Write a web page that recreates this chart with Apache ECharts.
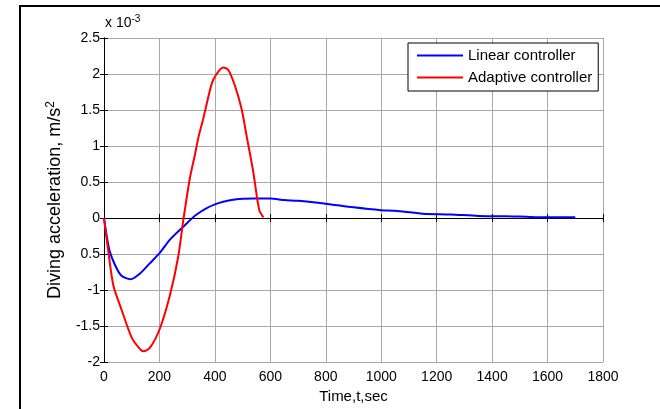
<!DOCTYPE html>
<html>
<head>
<meta charset="utf-8">
<script src="https://cdn.jsdelivr.net/npm/echarts@6/dist/echarts.min.js"></script>
<style>
  html, body { margin: 0; padding: 0; background: #fff; }
  #chart { width: 660px; height: 409px; }
</style>
</head>
<body>
<div id="chart"></div>
<script>
// Diving acceleration (units of 1e-3 m/s^2) versus time in seconds
const linearTime = [0, 22, 60, 96, 130, 165, 202, 238, 286, 334, 400, 478, 540, 600, 650, 700, 800, 900, 1000, 1050, 1150, 1250, 1350, 1500, 1600, 1700];
const linearAccel = [0, -0.48, -0.79, -0.85, -0.77, -0.63, -0.48, -0.30, -0.12, 0.05, 0.19, 0.26, 0.27, 0.27, 0.25, 0.24, 0.20, 0.15, 0.11, 0.10, 0.06, 0.05, 0.03, 0.02, 0.01, 0.01];

const adaptiveTime = [0, 15, 34, 64, 100, 130, 142, 166, 202, 238, 268, 286, 310, 328, 340, 358, 388, 406, 430, 448, 472, 496, 514, 538, 560, 575];
const adaptiveAccel = [0, -0.45, -0.94, -1.28, -1.66, -1.82, -1.85, -1.80, -1.53, -1.07, -0.53, -0.03, 0.56, 0.88, 1.11, 1.38, 1.86, 2.0, 2.09, 2.06, 1.84, 1.52, 1.15, 0.65, 0.11, 0.01];

const seriesNames = ['Linear controller', 'Adaptive controller'];
const seriesColors = ['#0000ff', '#ff0000'];

const xTickValues = [0, 200, 400, 600, 800, 1000, 1200, 1400, 1600, 1800];
const yTickValues = [-2, -1.5, -1, -0.5, 0, 0.5, 1, 1.5, 2, 2.5];
const yTickLabels = ['-2', '-1.5', '-1', '0.5', '0', '0.5', '1', '1.5', '2', '2.5'];

const FONT = '"Liberation Sans", Arial, sans-serif';

function pairs(xs, ys) { return xs.map((x, i) => [x, ys[i]]); }

const chart = echarts.init(document.getElementById('chart'), null, { renderer: 'canvas' });

const tickStyle = { show: true, inside: true, length: 4, lineStyle: { color: '#000', width: 1 } };
const lineStyleAxis = { show: true, lineStyle: { color: '#000', width: 1 } };

chart.setOption({
  animation: false,
  backgroundColor: '#fff',
  grid: { left: 104, right: 57, top: 38, bottom: 41, containLabel: false },
  xAxis: [
    {
      type: 'value', min: 0, max: 1800, interval: 200, position: 'bottom',
      axisLine: lineStyleAxis, axisTick: tickStyle,
      axisLabel: { color: '#000', fontSize: 14, fontFamily: FONT, margin: 8,
        formatter: v => xTickValues.includes(v) ? String(v) : '' },
      splitLine: { show: true, lineStyle: { color: '#a8a8a8', width: 1 } },
      name: 'Time,t,sec', nameLocation: 'middle', nameGap: 26,
      nameTextStyle: { color: '#000', fontSize: 15, fontFamily: FONT }
    },
    {
      type: 'value', min: 0, max: 1800, interval: 200, position: 'top',
      axisLine: lineStyleAxis, axisTick: tickStyle,
      axisLabel: { show: false }, splitLine: { show: false }
    }
  ],
  yAxis: [
    {
      type: 'value', min: -2, max: 2.5, interval: 0.5, position: 'left',
      axisLine: lineStyleAxis, axisTick: tickStyle,
      axisLabel: { color: '#000', fontSize: 14, fontFamily: FONT, margin: 4,
        formatter: v => {
          const i = yTickValues.findIndex(t => Math.abs(t - v) < 1e-9);
          return i >= 0 ? yTickLabels[i] : '';
        } },
      splitLine: { show: true, lineStyle: { color: '#a8a8a8', width: 1 } },
      name: 'Diving acceleration, m/s{sup|2}', nameLocation: 'middle', nameGap: 38, nameRotate: 90,
      nameTextStyle: { color: '#000', fontSize: 18, fontFamily: FONT,
        rich: { sup: { fontSize: 12, fontFamily: FONT, color: '#000', verticalAlign: 'top', padding: [0, 0, 9, 0] } } }
    },
    {
      type: 'value', min: -2, max: 2.5, interval: 0.5, position: 'right',
      axisLine: lineStyleAxis, axisTick: tickStyle,
      axisLabel: { show: false }, splitLine: { show: false }
    }
  ],
  legend: {
    show: true,
    data: seriesNames,
    orient: 'vertical',
    left: 408, top: 43,
    itemWidth: 46, itemHeight: 2, itemGap: 7,
    padding: [5, 6, 6, 9],
    borderColor: '#000', borderWidth: 1, borderRadius: 0,
    backgroundColor: '#fff',
    icon: 'rect',
    textStyle: { color: '#000', fontSize: 15, fontFamily: FONT, padding: [0, 0, 0, 0] }
  },
  graphic: [
    {
      type: 'rect', silent: true, z: 100,
      shape: { x: 20, y: 6, width: 700, height: 500 },
      style: { fill: 'none', stroke: '#000', lineWidth: 2 }
    },
    {
      type: 'text', silent: true, z: 100, left: 105, top: 14,
      style: {
        text: 'x 10{sup|-3}', fill: '#000', font: '14px ' + FONT,
        rich: { sup: { fontSize: 10, fontFamily: FONT, fill: '#000', verticalAlign: 'top', padding: [0, 0, 9, 0] } }
      }
    }
  ],
  series: [
    {
      name: seriesNames[0], type: 'line', data: pairs(linearTime, linearAccel),
      xAxisIndex: 0, yAxisIndex: 0, symbol: 'none', smooth: 0.25,
      lineStyle: { color: seriesColors[0], width: 2 }, itemStyle: { color: seriesColors[0] }
    },
    {
      name: seriesNames[1], type: 'line', data: pairs(adaptiveTime, adaptiveAccel),
      xAxisIndex: 0, yAxisIndex: 0, symbol: 'none', smooth: 0.25,
      lineStyle: { color: seriesColors[1], width: 2 }, itemStyle: { color: seriesColors[1] }
    }
  ]
});
</script>
</body>
</html>
